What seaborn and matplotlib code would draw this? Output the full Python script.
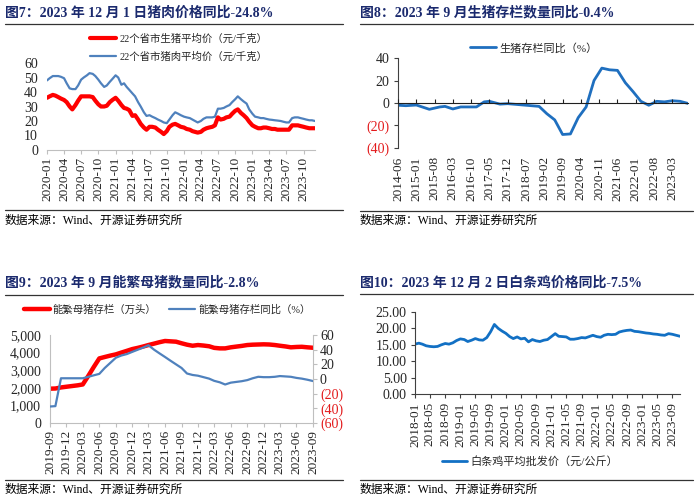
import pandas as pd
import numpy as np
import matplotlib
matplotlib.use('Agg')
import matplotlib.pyplot as plt
import matplotlib.dates as mdates
from matplotlib.lines import Line2D
from matplotlib.ticker import FuncFormatter
import seaborn as sns

# ---- 图7 猪肉价格 (半月)
dates1 = pd.date_range('2020-01-01', '2023-12-01', freq='SMS')
hog_price = [36, 37, 38, 37.5, 36.5, 35.5, 34.5, 33, 30, 28,
             31, 34, 37, 37, 37, 37, 36.5, 34, 31.5, 30,
             30, 30.5, 33, 34.5, 36, 34, 31, 29, 28.5, 27.5,
             23.5, 24, 21, 18, 15.5, 14, 16, 16, 15.5, 14,
             12.5, 11, 13, 16, 17.5, 18, 17, 16, 15.5, 14.5,
             14, 13, 12.5, 12, 12.5, 14, 15, 15.5, 16, 17,
             22.5, 21, 21.5, 22.5, 23, 25, 27, 28, 25.5, 24,
             22, 19.5, 17, 16, 15, 15, 15.5, 15.5, 15, 14.5,
             14.5, 14, 14, 14, 14, 14, 17, 17, 17, 16.5,
             16, 15.5, 15, 15, 15]
pork_price = [48, 49.5, 51, 51, 51, 50.5, 49.5, 46, 42.5, 42,
              42, 44.5, 48.5, 50, 51.5, 53, 52.5, 51, 48.5, 46,
              43.5, 44.5, 47, 49, 51.5, 50, 45, 46, 43.5, 41.5,
              39, 37, 33, 30, 26, 23.5, 24, 23, 22, 21,
              20, 19, 18.5, 21, 24, 26, 25, 24, 23, 22.5,
              22, 21, 20, 19, 20, 21.5, 22.5, 22.5, 22.5, 23,
              28.5, 28.5, 29, 30, 31, 33, 35, 37, 35, 33.5,
              32, 28, 25, 23, 22.5, 22, 22, 21.5, 21, 20.8,
              20.5, 20.3, 20, 19.5, 19, 19, 22, 22.5, 22.5, 22,
              21.5, 21, 20.5, 20.5, 20]

# ---- 图8 生猪存栏同比
dates2 = pd.to_datetime(['2014-06', '2014-09', '2015-01', '2015-06', '2015-10', '2015-12',
                         '2016-03', '2016-06', '2016-12', '2017-03', '2017-05', '2017-09',
                         '2017-12', '2018-07', '2018-12', '2019-03', '2019-06', '2019-09',
                         '2019-12', '2020-03', '2020-06', '2020-09', '2020-12', '2021-03',
                         '2021-06', '2021-09', '2021-12', '2022-03', '2022-06', '2022-09',
                         '2022-12', '2023-03', '2023-06', '2023-09'])
stock_yoy = [-2, -2.4, -1.8, -5.6, -3.5, -3, -5.3, -3.5, -3.5, 1, 1.5, -1,
             -0.6, -2, -3, -9.5, -15, -28, -27.5, -13, -3.5, 20, 31, 29.5,
             29, 18, 10, 1.5, -2, 1.5, 1, 2, 1.5, -0.4]

# ---- 图9 能繁母猪
dates3 = pd.date_range('2019-09-01', periods=49, freq='MS')
sow_stock = [1950, 1960, 2020, 2060, 2100, 2140, 2190, 2680, 3180, 3670,
             3750, 3830, 3900, 4000, 4100, 4200, 4270, 4350, 4430, 4510,
             4590, 4660, 4640, 4620, 4530, 4450, 4390, 4430, 4400, 4360,
             4270, 4240, 4240, 4300, 4340, 4380, 4430, 4450, 4460, 4470,
             4460, 4430, 4390, 4350, 4300, 4320, 4330, 4300, 4275]
sow_yoy = [-37.5, -37, 1, 1, 1, 1, 1, 3, 5, 7,
           15, 22, 29, 32, 34, 37, 40, 43, 46, 40,
           35, 30, 25, 20, 15, 7.5, 5.5, 4.5, 2.5, 0.5,
           -2.5, -4.5, -7.5, -5, -4, -3, -1.5, 1, 3, 2.5,
           2.5, 3, 4, 3.5, 3, 1.5, 0.5, -1, -2.8]

# ---- 图10 白条鸡
dates4 = pd.date_range('2018-01-01', periods=71, freq='MS')
chicken_price = [15.2, 15.5, 15.2, 14.7, 14.5, 14.4, 14.5, 15.0, 15.4, 15.2,
                 15.6, 16.3, 16.8, 16.6, 16.0, 16.4, 16.9, 16.5, 16.4, 17.2,
                 19.0, 21.2, 20.0, 19.2, 18.5, 17.5, 16.9, 17.4, 16.8, 17.0,
                 15.9, 16.6, 16.2, 16.0, 16.4, 16.6, 17.5, 18.4, 17.6, 17.5,
                 17.4, 16.7, 16.7, 16.9, 17.2, 17.1, 17.5, 17.9, 17.5, 17.3,
                 17.9, 18.2, 18.1, 18.2, 18.9, 19.2, 19.4, 19.5, 19.1, 19.0,
                 18.8, 18.6, 18.5, 18.3, 18.2, 18.0, 17.9, 18.4, 18.2, 17.9,
                 17.6]

titles = ['图7：2023 年 12 月 1 日猪肉价格同比-24.8%',
          '图8：2023 年 9 月生猪存栏数量同比-0.4%',
          '图9：2023 年 9 月能繁母猪数量同比-2.8%',
          '图10：2023 年 12 月 2 日白条鸡价格同比-7.5%']
source = '数据来源：Wind、开源证券研究所'

sns.set_style('white')
plt.rcParams['font.family'] = ['Liberation Serif', 'Noto Sans CJK SC']
plt.rcParams['axes.unicode_minus'] = False

NAVY = '#1b2a6e'
RED = '#ff0000'
REDTXT = '#e31a1c'
GRAY = '#bfbfbf'
DARK = '#404040'

W, H = 700, 500
fig = plt.figure(figsize=(7, 5), dpi=100)


def fx(x):
    return x / W


def fy(y):
    return 1 - y / H


def frame(x0, x1, y_title, y_top, y_bot, y_src, title):
    fig.text(fx(x0), fy(y_title), title, fontsize=10, fontweight='bold',
             color=NAVY, va='center', ha='left')
    fig.add_artist(Line2D([fx(x0), fx(x1)], [fy(y_top)] * 2, color='#333333', lw=0.9))
    fig.add_artist(Line2D([fx(x0), fx(x1)], [fy(y_bot)] * 2, color='#333333', lw=0.9))
    fig.text(fx(x0), fy(y_src), source, fontsize=8.5, color='black', va='center', ha='left')


def paren(v, pos=None):
    return f'({abs(v):.0f})' if v < 0 else f'{v:.0f}'


def color_neg(ax, ticks, axis='y'):
    labels = ax.get_yticklabels()
    for lbl, v in zip(labels, ticks):
        if v < 0:
            lbl.set_color(REDTXT)


def date_axis(ax, ticks):
    ax.set_xticks(ticks)
    ax.xaxis.set_major_formatter(mdates.DateFormatter('%Y-%m'))
    ax.tick_params(axis='x', labelrotation=90, labelsize=9.5)
    ax.set_xlabel('')
    ax.set_ylabel('')


# ===================== 图7
frame(5, 343, 13, 24, 210, 221, titles[0])
ax1 = fig.add_axes([fx(47), fy(150), (315 - 47) / W, (150 - 63) / H])
sns.lineplot(x=dates1, y=pork_price, ax=ax1, color='#4f81bd', lw=1.6,
             label='22个省市猪肉平均价（元/千克）')
sns.lineplot(x=dates1, y=hog_price, ax=ax1, color=RED, lw=3,
             label='22个省市生猪平均价（元/千克）')
ax1.set_ylim(0, 60)
ax1.set_yticks(range(0, 61, 10))
ax1.set_xlim(dates1[0], dates1[-1])
date_axis(ax1, pd.date_range('2020-01-01', '2023-10-01', freq='3MS'))
for s in ['left', 'top', 'right']:
    ax1.spines[s].set_visible(False)
ax1.spines['bottom'].set_color(GRAY)
ax1.tick_params(axis='x', bottom=True, length=3, color=GRAY, pad=2)
ax1.tick_params(axis='y', left=False, labelsize=10, pad=3)
h, l = ax1.get_legend_handles_labels()
ax1.legend(h[::-1], l[::-1], loc='center', bbox_to_anchor=(fx(179), fy(47.5)),
           bbox_transform=fig.transFigure, frameon=False, fontsize=7.5,
           handlelength=2.5, handletextpad=0.3, labelspacing=0.75)

# ===================== 图8
frame(360, 693, 13, 24, 211, 221, titles[1])
pos2 = [fx(398), fy(148), (688 - 398) / W, (148 - 58) / H]
ax2 = fig.add_axes(pos2)
sns.lineplot(x=dates2, y=stock_yoy, ax=ax2, color='#1f6fbf', lw=2,
             label='生猪存栏同比（%）')
ax2.set_ylim(-40, 40)
t2 = [-40, -20, 0, 20, 40]
ax2.set_yticks(t2)
ax2.yaxis.set_major_formatter(FuncFormatter(paren))
ax2.set_xlim(dates2[0], dates2[-1])
date_axis(ax2, pd.date_range('2014-06-01', '2023-03-01', freq='7MS'))
for s in ['bottom', 'top', 'right']:
    ax2.spines[s].set_visible(False)
ax2.spines['left'].set_color(DARK)
ax2.tick_params(axis='x', bottom=True, length=0, pad=6)
ax2.tick_params(axis='y', left=True, length=3, color=DARK, labelsize=10, pad=3)
color_neg(ax2, t2)
ax2.legend(loc='center', bbox_to_anchor=(fx(534), fy(48)), bbox_transform=fig.transFigure,
           frameon=False, fontsize=8, handlelength=2.3, handletextpad=0.3)
ax2b = fig.add_axes(pos2, sharex=ax2, sharey=ax2)
ax2b.patch.set_visible(False)
for s in ['left', 'top', 'right']:
    ax2b.spines[s].set_visible(False)
ax2b.spines['bottom'].set_position(('data', 0))
ax2b.spines['bottom'].set_color('#202020')
ax2b.tick_params(axis='x', bottom=True, direction='in', length=3, color='#202020',
                 labelbottom=False)
ax2b.tick_params(axis='y', left=False, labelleft=False)

# ===================== 图9
frame(5, 343, 283, 295, 480, 490, titles[2])
ax3 = fig.add_axes([fx(50), fy(423), (313 - 50) / W, (423 - 335) / H])
ax3r = ax3.twinx()
sns.lineplot(x=dates3, y=sow_stock, ax=ax3, color=RED, lw=3.2,
             label='能繁母猪存栏（万头）')
sns.lineplot(x=dates3, y=sow_yoy, ax=ax3r, color='#4f81bd', lw=1.6,
             label='能繁母猪存栏同比（%）')
ax3.set_ylim(0, 5000)
ax3.set_yticks(range(0, 5001, 1000))
ax3.yaxis.set_major_formatter(FuncFormatter(lambda v, p: f'{v:,.0f}'))
ax3r.set_ylim(-60, 60)
t3 = [-60, -40, -20, 0, 20, 40, 60]
ax3r.set_yticks(t3)
ax3r.yaxis.set_major_formatter(FuncFormatter(paren))
ax3.set_xlim(dates3[0], dates3[-1])
date_axis(ax3, pd.date_range('2019-09-01', '2023-09-01', freq='3MS'))
ax3r.set_ylabel('')
for s in ['top', 'right']:
    ax3.spines[s].set_visible(False)
for s in ['top', 'left', 'bottom']:
    ax3r.spines[s].set_visible(False)
for s in ['left', 'bottom']:
    ax3.spines[s].set_color(GRAY)
ax3r.spines['right'].set_color(GRAY)
ax3.tick_params(axis='x', bottom=True, length=3, color=GRAY, pad=2)
ax3.tick_params(axis='y', left=False, labelsize=10, pad=3)
ax3r.tick_params(axis='y', right=True, length=3, color=GRAY, labelsize=10, pad=2)
color_neg(ax3r, t3)
h1, l1 = ax3.get_legend_handles_labels()
h2, l2 = ax3r.get_legend_handles_labels()
ax3r.get_legend().remove()
ax3.legend(h1 + h2, l1 + l2, loc='center', bbox_to_anchor=(fx(167), fy(310)),
           bbox_transform=fig.transFigure, frameon=False, fontsize=7.5, ncol=2,
           handlelength=2.5, handletextpad=0.3, columnspacing=1.2)

# ===================== 图10
frame(360, 693, 283, 294, 480, 490, titles[3])
ax4 = fig.add_axes([fx(415), fy(394), (680 - 415) / W, (394 - 312) / H])
sns.lineplot(x=dates4, y=chicken_price, ax=ax4, color='#1270c4', lw=2,
             label='白条鸡平均批发价（元/公斤）')
ax4.set_ylim(0, 25)
ax4.set_yticks(np.arange(0, 26, 5))
ax4.yaxis.set_major_formatter(FuncFormatter(lambda v, p: f'{v:.2f}'))
ax4.set_xlim(dates4[0], dates4[-1])
date_axis(ax4, pd.date_range('2018-01-01', '2023-09-01', freq='4MS'))
for s in ['top', 'right']:
    ax4.spines[s].set_visible(False)
for s in ['left', 'bottom']:
    ax4.spines[s].set_color(DARK)
ax4.tick_params(axis='x', bottom=True, length=3, color=DARK, pad=3)
ax4.tick_params(axis='y', left=True, length=3, color=DARK, labelsize=10, pad=3)
ax4.legend(loc='center', bbox_to_anchor=(fx(530), fy(461)), bbox_transform=fig.transFigure,
           frameon=False, fontsize=8, handlelength=2.3, handletextpad=0.3)

fig.savefig('out.png', dpi=100)
